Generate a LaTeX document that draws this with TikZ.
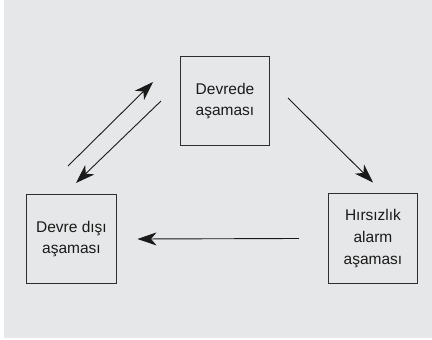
\documentclass[tikz,border=0pt]{standalone}
\usepackage{fontspec}
\setmainfont{Liberation Sans}
\usepackage{tikz}
\usetikzlibrary{arrows.meta}
\definecolor{ink}{HTML}{1A1A1A}
\definecolor{frame}{HTML}{2E2E2E}
\definecolor{plane}{HTML}{E6E7E8}

\begin{document}
\begin{tikzpicture}[x=1bp,y=1bp,
    stage/.style={draw=frame,line width=1bp,minimum size=89bp,inner sep=0pt,align=center,
      font=\fontsize{15.5bp}{21.7bp}\selectfont,text=ink},
    flow/.style={-{Stealth[length=19bp,width=13bp,inset=5.5bp]},ink,line width=0.9bp}]
  \useasboundingbox (0,0) rectangle (432,340);
  \fill[plane] (4,2) rectangle (432,340);
  \node[stage] (armed) at (225,239) {Devrede\\aşaması};
  \node[stage] (disarmed) at (71.5,101) {Devre dışı\\aşaması};
  \node[stage] (alarm) at (373,101.5) {Hırsızlık\\alarm\\aşaması};
  \draw[flow] ([shift={(-3.5,28)}]disarmed.north) -- ([shift={(-27,19)}]armed.west);
  \draw[flow] ([shift={(-19,0)}]armed.west) -- ([shift={(4.5,11)}]disarmed.north);
  \draw[flow] ([shift={(18,3)}]armed.east) -- ([shift={(0,11)}]alarm.north);
  \draw[flow] ([shift={(-29,0)}]alarm.west) -- ([shift={(21,0)}]disarmed.east);
\end{tikzpicture}
\end{document}
